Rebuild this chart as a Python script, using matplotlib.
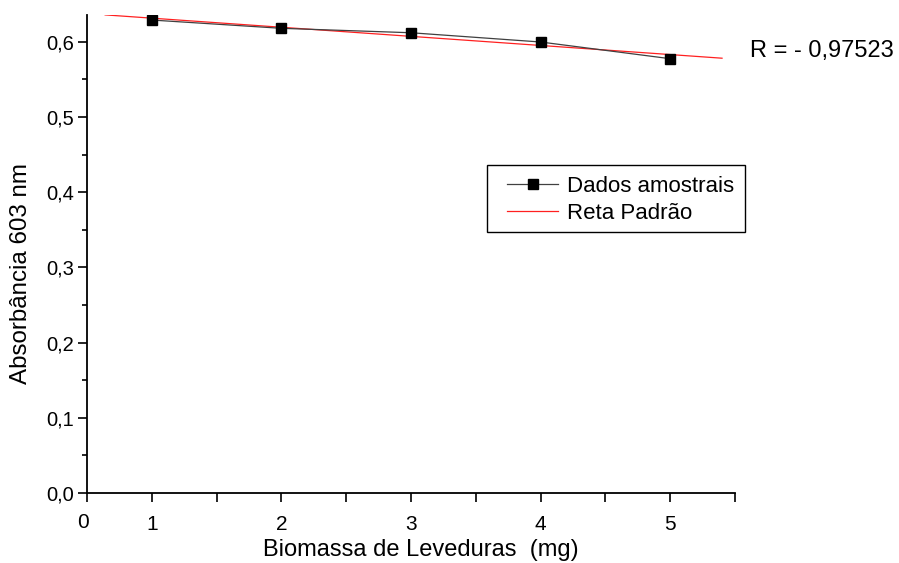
import matplotlib
matplotlib.use("Agg")
import matplotlib.pyplot as plt
import matplotlib.transforms as mtransforms
from matplotlib.patches import Rectangle
import numpy as np

plt.rcParams['font.family'] = ['Liberation Sans', 'DejaVu Sans']

biomassa = [1, 2, 3, 4, 5]
absorbancia = [0.6288, 0.6178, 0.6119, 0.5996, 0.5774]
reta_x = [0.64, 5.40]
y_ticks = [0.0, 0.1, 0.2, 0.3, 0.4, 0.5, 0.6]
y_labels = ["0,0", "0,1", "0,2", "0,3", "0,4", "0,5", "0,6"]
x_ticks = [1, 2, 3, 4, 5]
x_labels = ["1", "2", "3", "4", "5"]
r_text = "R = - 0,97523"

W, H = 899, 563
fig = plt.figure(figsize=(W / 100, H / 100), dpi=100)
ax = fig.add_axes([87 / W, 1 - 493 / H, (735 - 87) / W, (493 - 15) / H])

slope, intercept = np.polyfit(biomassa, absorbancia, 1)
rx = np.array(reta_x)
ax.plot(biomassa, absorbancia, color='#404040', lw=0.9, marker='s', ms=6.5,
        mfc='black', mec='black', label='Dados amostrais', zorder=3)
ax.plot(rx, slope * rx + intercept, color='#ff2020', lw=0.9, label='Reta Padrão', zorder=2)

ax.set_xlim(0.5, 5.5)
ax.set_ylim(0, 0.6355)
ax.spines['top'].set_visible(False)
ax.spines['right'].set_visible(False)
for s in ('left', 'bottom'):
    ax.spines[s].set_linewidth(1.3)

ax.set_yticks(y_ticks)
ax.set_yticklabels(y_labels)
ax.set_yticks(np.arange(0.05, 0.63, 0.1), minor=True)
xt = np.arange(0.5, 5.51, 0.5)
ax.set_xticks(xt)
ax.set_xticklabels(["" if t not in x_ticks else x_labels[x_ticks.index(t)] for t in xt])
ax.tick_params(axis='both', which='major', direction='out', length=6.5, width=1.2, pad=3)
ax.tick_params(axis='y', which='major', labelsize=14.5)
ax.tick_params(axis='x', which='major', labelsize=15, pad=9)
ax.tick_params(axis='y', which='minor', direction='out', length=3.5, width=1.2)

trans = mtransforms.blended_transform_factory(ax.transData, ax.transAxes)
ax.text(0.47, (493 - 522) / (493 - 15), "0", transform=trans, fontsize=15,
        ha='center', va='center')

ax.set_xlabel("Biomassa de Leveduras  (mg)", fontsize=17)
ax.xaxis.set_label_coords((421 - 87) / (735 - 87), (493 - 550) / (493 - 15))
ax.xaxis.label.set_va('center')
ax.set_ylabel("Absorbância 603 nm", fontsize=17.4)
ax.yaxis.set_label_coords((21 - 87) / (735 - 87), (493 - 274) / (493 - 15))
ax.yaxis.label.set_va('center')

fig.patches.append(Rectangle((487 / W, 1 - 232 / H), (745 - 487) / W, (232 - 165) / H,
                             transform=fig.transFigure, fill=False, edgecolor='black',
                             linewidth=1.0, zorder=5))
leg = fig.legend(loc='upper left', bbox_to_anchor=(507 / W, 1 - 176 / H),
                 fontsize=16, frameon=False, handlelength=2.3,
                 handletextpad=0.4, borderpad=0, labelspacing=0.28, borderaxespad=0)

fig.text(750 / W, 1 - 51 / H, r_text, fontsize=17, ha='left', va='center')

fig.savefig("out.png", dpi=100)
